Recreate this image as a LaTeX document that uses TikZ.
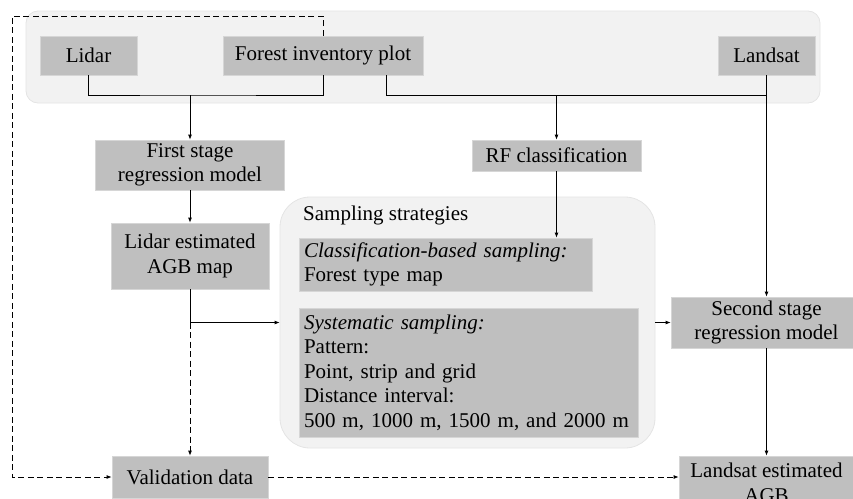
\documentclass[tikz,border=0pt]{standalone}
\usepackage{fontspec}
\setmainfont{Liberation Serif}
\usetikzlibrary{arrows.meta,positioning,calc}

\definecolor{boxgray}{RGB}{191,191,191}
\definecolor{boxline}{RGB}{214,214,214}
\definecolor{grpgray}{RGB}{242,242,242}
\definecolor{grpline}{RGB}{228,228,228}

\tikzset{
  box/.style={fill=boxgray, draw=boxline, line width=0.8pt, inner sep=0pt, align=center, font=\fontsize{21}{24.5}\selectfont},
  leftbox/.style={box, align=left, inner xsep=5pt},
  grp/.style={fill=grpgray, draw=grpline, line width=0.8pt},
  arr/.style={line width=0.8pt, -{Latex[length=5pt,width=4pt]}},
  darr/.style={arr, dashed, dash pattern=on 6pt off 3.5pt},
  ln/.style={line width=0.8pt}
}

\begin{document}
\begin{tikzpicture}[x=1pt,y=-1pt]
  \useasboundingbox (0,0) rectangle (853,498);
  \clip (0,0) rectangle (853,498);

  % background groups
  \draw[grp, rounded corners=12pt] (26,11) rectangle (820,103);
  \node[grp, rounded corners=30pt, minimum width=375pt, minimum height=251pt] (samp) at (467.5,322.5) {};
  \node[anchor=west, inner sep=0pt, font=\fontsize{21}{24.5}\selectfont] (samplbl) at (303,215) {Sampling strategies};

  % data sources
  \node[box, minimum width=97pt, minimum height=39pt] (lidar) at (88.5,55.5) {Lidar};
  \node[box, minimum width=200pt, minimum height=39pt] (plot) at (323,55.5) {Forest inventory plot};
  \node[box, minimum width=97pt, minimum height=39pt] (landsat) at (766.5,55.5) {Landsat};

  % processing steps
  \node[box, minimum width=189pt, minimum height=50pt] (first) at (190,165) {First stage\\regression model};
  \node[box, minimum width=158pt, minimum height=66pt] (lidarmap) at (190,256) {Lidar estimated\\AGB map};
  \node[box, minimum width=156pt, minimum height=42pt] (valid) at (190,477) {Validation data};
  \node[box, minimum width=169pt, minimum height=31pt] (rf) at (556.5,155.5) {RF classification};
  \node[leftbox, text width=283pt, minimum height=53pt] (cls) at (445.5,264.5) {\textit{Classification-based sampling:}\\Forest type map};
  \node[leftbox, text width=329pt, minimum height=129pt] (sys) at (468.5,372.5) {\textit{Systematic sampling:}\\Pattern:\\Point, strip and grid\\Distance interval:\\500 m, 1000 m, 1500 m, and 2000 m};
  \node[box, minimum width=191pt, minimum height=51pt] (second) at (766.5,322.5) {Second stage\\regression model};
  \node[box, minimum width=175pt, minimum height=54pt] (lest) at (766.5,483) {Landsat estimated\\AGB};

  % connectors
  \draw[ln] (lidar.south) |- (190,95) -| (plot.south);
  \draw[arr] (first.north |- 0,95) -- (first.north);
  \draw[ln] ([xshift=63pt]plot.south) |- (766.5,95) -- (landsat.south);
  \draw[arr] (rf.north |- 0,95) -- (rf.north);
  \draw[arr] (landsat.south) -- (second.north);
  \draw[arr] (first.south) -- (lidarmap.north);
  \draw[arr] (rf.south) -- (rf.south |- cls.north);
  \draw[arr] (lidarmap.south) |- (samp.west);
  \draw[darr] (lidarmap.south |- samp.west) -- (valid.north);
  \draw[arr] (samp.east) -- (second.west);
  \draw[arr] (second.south) -- (lest.north);
  \draw[darr] (plot.north) |- (12,16) |- (valid.west);
  \draw[darr] (valid.east) -- (valid.east -| lest.west);
\end{tikzpicture}
\end{document}
